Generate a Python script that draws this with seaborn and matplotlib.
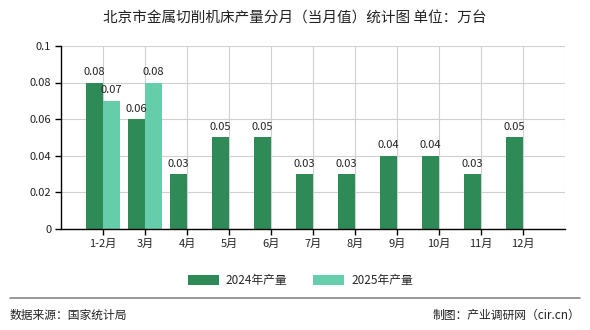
import matplotlib
matplotlib.use("Agg")
import matplotlib.pyplot as plt
import seaborn as sns
import pandas as pd
import numpy as np

months = ["1-2月", "3月", "4月", "5月", "6月", "7月", "8月", "9月", "10月", "11月", "12月"]
values_2024 = [0.08, 0.06, 0.03, 0.05, 0.05, 0.03, 0.03, 0.04, 0.04, 0.03, 0.05]
values_2025 = [0.07, 0.08, None, None, None, None, None, None, None, None, None]
series = ["2024年产量", "2025年产量"]
colors = ["#2E8B57", "#66CDAA"]
yticks = [0, 0.02, 0.04, 0.06, 0.08, 0.1]
ytick_labels = ["0", "0.02", "0.04", "0.06", "0.08", "0.1"]

sns.set_theme(style="white")
plt.rcParams['font.family'] = ['Noto Sans CJK SC', 'DejaVu Sans']

rows = []
for m, v in zip(months, values_2024):
    rows.append({"月份": m, "系列": series[0], "产量": v})
for m, v in zip(months, values_2025):
    rows.append({"月份": m, "系列": series[1], "产量": np.nan if v is None else v})
df = pd.DataFrame(rows)

fig = plt.figure(figsize=(5.9, 3.3), dpi=100)
ax = fig.add_axes([0.1034, 0.306, 0.8542, 0.555])

sns.barplot(data=df, x="月份", y="产量", hue="系列", order=months, hue_order=series,
            palette=colors, width=0.8, saturation=1, ax=ax, legend=True, zorder=2,
            linewidth=0, edgecolor="none")

for cont in ax.containers:
    labels = []
    for b in cont:
        h = b.get_height()
        labels.append("" if (h is None or np.isnan(h)) else f"{h:.2f}")
    ax.bar_label(cont, labels=labels, padding=4, fontsize=8, color="#222222")

ax.set_xlim(-1, len(months))
ax.set_ylim(0, 0.1)
ax.set_yticks(yticks)
ax.set_yticklabels(ytick_labels, fontsize=8)
ax.set_xticks(range(len(months)))
ax.set_xticklabels(months, fontsize=8)
ax.set_xlabel("")
ax.set_ylabel("")

ax.grid(True, axis="both", color="#d0d0d0", linewidth=0.8, zorder=0)
ax.set_axisbelow(True)
ax.axvline(len(months), color="#d0d0d0", linewidth=0.8, zorder=0)

for s in ["top", "right"]:
    ax.spines[s].set_visible(False)
for s in ["left", "bottom"]:
    ax.spines[s].set_color("black")
    ax.spines[s].set_linewidth(1)
ax.tick_params(axis="both", which="both", direction="out", length=4, width=1,
               color="black", labelcolor="#222222", left=True, bottom=True, pad=3)

leg = ax.legend(loc="upper center", bbox_to_anchor=(0.475, -0.19), ncol=2, frameon=False,
                fontsize=8.5, handlelength=2.6, handleheight=0.9, columnspacing=2.2, handletextpad=0.6)

fig.text(0.5, 0.945, "北京市金属切削机床产量分月（当月值）统计图 单位：万台", ha="center", va="center",
         fontsize=10.5, color="#222222")
fig.add_artist(plt.Line2D([0.017, 0.983], [0.097, 0.097], color="#888888", linewidth=1.2,
                          transform=fig.transFigure))
fig.text(0.017, 0.045, "数据来源：国家统计局", ha="left", va="center", fontsize=8.5, color="#222222")
fig.text(0.983, 0.045, "制图：产业调研网（cir.cn）", ha="right", va="center", fontsize=8.5, color="#222222")

fig.savefig("out.png", dpi=100)
